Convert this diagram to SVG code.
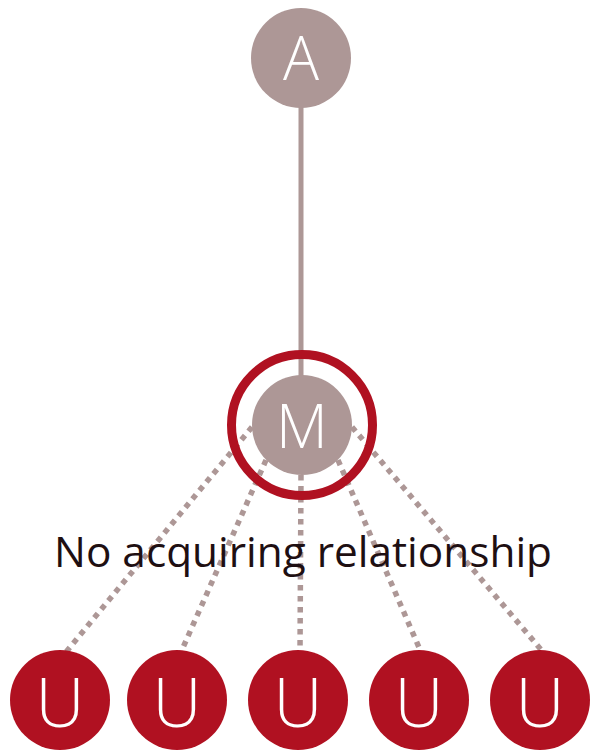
<svg xmlns="http://www.w3.org/2000/svg" width="590" height="750" viewBox="0 0 590 750">
  <style>
    .grey { fill: #ad9796; }
    .red { fill: #b01121; }
    .letter { font-family: "Open Sans", "Liberation Sans", sans-serif; font-weight: 300; fill: #ffffff; text-anchor: middle; }
    .solid { stroke: #ad9796; stroke-width: 5; fill: none; }
    .dotted { stroke: #ad9796; stroke-width: 5.5; stroke-dasharray: 5.5 5.5; fill: none; }
    .caption { font-family: "Open Sans", "Liberation Sans", sans-serif; font-size: 42px; fill: #1e0f12; text-anchor: start; }
  </style>

  <!-- connectors -->
  <g id="connectors">
    <line class="solid" x1="301" y1="100" x2="301" y2="385"/>
    <line class="dotted" x1="252" y1="427" x2="66" y2="652"/>
    <line class="dotted" x1="266" y1="460" x2="181" y2="652"/>
    <line class="dotted" x1="301" y1="475" x2="300" y2="652"/>
    <line class="dotted" x1="338" y1="460" x2="421" y2="652"/>
    <line class="dotted" x1="352" y1="427" x2="543" y2="652"/>
  </g>

  <g id="node-A">
    <circle class="grey" cx="301" cy="58" r="50"/>
    <text class="letter" x="301" y="80" font-size="60">A</text>
  </g>

  <g id="node-M">
    <circle cx="302" cy="425" r="70.5" fill="none" stroke="#b01121" stroke-width="9"/>
    <circle class="grey" cx="302" cy="425" r="50"/>
    <text class="letter" x="302" y="448" font-size="60">M</text>
  </g>

  <text class="caption" x="54" y="567" textLength="498" lengthAdjust="spacingAndGlyphs">No acquiring relationship</text>

  <g id="node-U1">
    <circle class="red" cx="60" cy="700" r="50"/>
    <text class="letter" x="60" y="727" font-size="68">U</text>
  </g>
  <g id="node-U2">
    <circle class="red" cx="177" cy="700" r="50"/>
    <text class="letter" x="177" y="727" font-size="68">U</text>
  </g>
  <g id="node-U3">
    <circle class="red" cx="298" cy="700" r="50"/>
    <text class="letter" x="298" y="727" font-size="68">U</text>
  </g>
  <g id="node-U4">
    <circle class="red" cx="419" cy="700" r="50"/>
    <text class="letter" x="419" y="727" font-size="68">U</text>
  </g>
  <g id="node-U5">
    <circle class="red" cx="540" cy="700" r="50"/>
    <text class="letter" x="540" y="727" font-size="68">U</text>
  </g>
</svg>
